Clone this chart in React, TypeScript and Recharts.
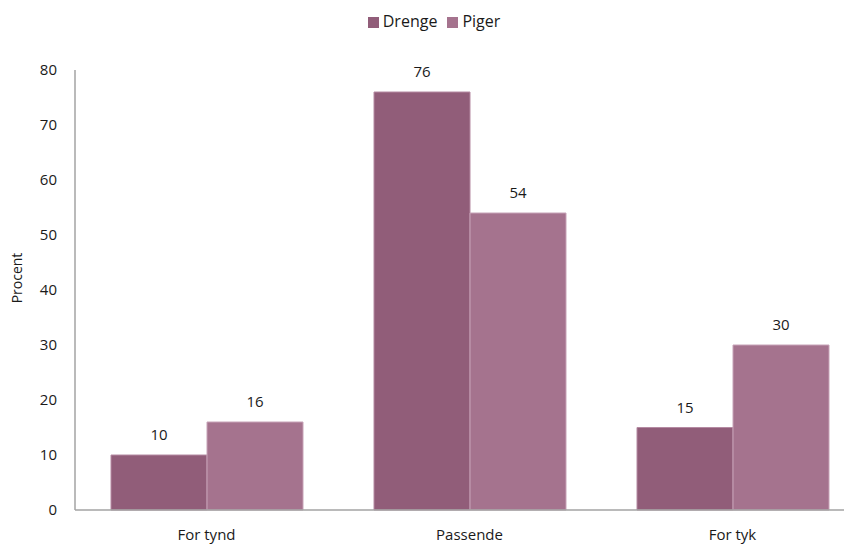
import React from "react";
import { BarChart, Bar, XAxis, YAxis, Legend, LabelList, Label } from "recharts";

// Self-perceived body weight, by gender (percent)
const categories = ["For tynd", "Passende", "For tyk"];
const drenge = [10, 76, 15];
const piger = [16, 54, 30];
const yTicks = [0, 10, 20, 30, 40, 50, 60, 70, 80];

const data = categories.map((name, i) => ({ name, Drenge: drenge[i], Piger: piger[i] }));

const FONT = "'Open Sans', 'Noto Sans', sans-serif";
const TEXT = "#1a1a1a";
const AXIS = "#a3a3a3";

export default function App() {
  return (
    <div style={{ width: 844, height: 537, overflow: "hidden", fontFamily: FONT }}>
      <BarChart
        width={870}
        height={537}
        data={data}
        margin={{ top: 62, right: 14, left: 0, bottom: 0 }}
        barGap={0}
        barSize={96}
      >
        <Legend
          verticalAlign="middle"
          align="center"
          iconType="square"
          iconSize={11}
          wrapperStyle={{ top: 2, left: 0, width: 862, fontSize: 16, fontFamily: FONT }}
          formatter={(v) => <span style={{ color: TEXT }}>{v}</span>}
        />
        <XAxis
          dataKey="name"
          height={35}
          axisLine={{ stroke: AXIS, strokeWidth: 1.5 }}
          tickLine={false}
          tickSize={0}
          tickMargin={19}
          tick={{ fill: TEXT, fontSize: 15, fontFamily: FONT }}
        />
        <YAxis
          width={67}
          domain={[0, 80]}
          ticks={yTicks}
          axisLine={{ stroke: AXIS, strokeWidth: 1.5 }}
          tickLine={false}
          tickSize={0}
          tickMargin={18}
          tick={{ fill: TEXT, fontSize: 15, fontFamily: FONT }}
        >
          <Label
            value="Procent"
            angle={-90}
            position="center"
            dx={-24}
            dy={-12}
            style={{ fill: TEXT, fontSize: 14, fontFamily: FONT, textAnchor: "middle" }}
          />
        </YAxis>
        <Bar dataKey="Drenge" fill="#915d79" stroke="#b58aa2" strokeWidth={1} isAnimationActive={false}>
          <LabelList dataKey="Drenge" position="top" offset={15} fill={TEXT} fontSize={15} fontFamily={FONT} />
        </Bar>
        <Bar dataKey="Piger" fill="#a5738e" stroke="#c7a3b7" strokeWidth={1} isAnimationActive={false}>
          <LabelList dataKey="Piger" position="top" offset={15} fill={TEXT} fontSize={15} fontFamily={FONT} />
        </Bar>
      </BarChart>
    </div>
  );
}
